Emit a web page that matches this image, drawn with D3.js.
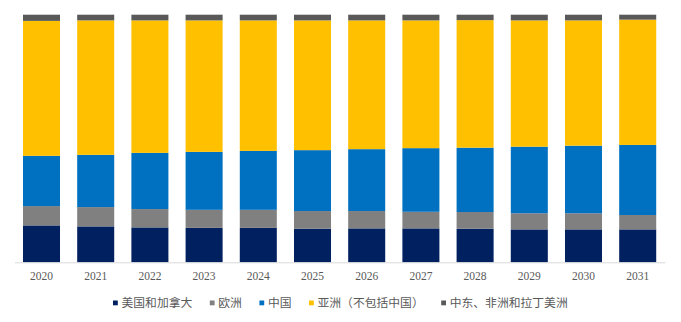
<!DOCTYPE html>
<html>
<head>
<meta charset="utf-8">
<script src="https://cdn.jsdelivr.net/npm/d3@7/dist/d3.min.js"></script>
<style>
  html, body { margin: 0; padding: 0; background: #fff; }
  svg { display: block; }
</style>
</head>
<body>
<svg id="chart" width="681" height="322"></svg>
<script>
// Years on the x axis
const years = ["2020","2021","2022","2023","2024","2025","2026","2027","2028","2029","2030","2031"];

// Regional share (%) per year, bottom to top of each stack
const usCanada = [14.9, 14.5, 14.1, 13.9, 13.9, 13.6, 13.7, 13.7, 13.6, 13.3, 13.3, 13.3];
const europe   = [7.8, 7.8, 7.4, 7.3, 7.3, 7.1, 7.0, 6.7, 6.7, 6.5, 6.5, 5.8];
const china    = [20.3, 21.1, 22.7, 23.4, 23.8, 24.6, 25.0, 25.7, 26.0, 26.9, 27.3, 28.3];
const asiaExCn = [54.5, 54.3, 53.5, 53.1, 52.7, 52.4, 52.0, 51.6, 51.5, 51.0, 50.6, 50.6];
const meaLatam = [2.5, 2.3, 2.3, 2.3, 2.3, 2.3, 2.3, 2.3, 2.2, 2.3, 2.3, 2.0];

const seriesNames = ["美国和加拿大", "欧洲", "中国", "亚洲（不包括中国）", "中东、非洲和拉丁美洲"];
const seriesValues = [usCanada, europe, china, asiaExCn, meaLatam];
const seriesColors = ["#002060", "#808080", "#0070C0", "#FFC000", "#595959"];

const keys = seriesNames;
const rows = years.map((y, i) => {
  const r = { year: y };
  keys.forEach((k, j) => { r[k] = seriesValues[j][i]; });
  return r;
});

const svg = d3.select("#chart");
const plotTop = 14.7, plotBottom = 262.3;

const x = d3.scaleBand()
  .domain(years)
  .range([14.4, 664.8])
  .paddingInner(0.317)
  .paddingOuter(0.1585);

const y = d3.scaleLinear().domain([0, 100]).range([plotBottom, plotTop]);

const color = d3.scaleOrdinal().domain(keys).range(seriesColors);

const stacked = d3.stack().keys(keys)(rows);

svg.append("g")
  .selectAll("g")
  .data(stacked)
  .join("g")
  .attr("fill", d => color(d.key))
  .selectAll("rect")
  .data(d => d)
  .join("rect")
  .attr("x", d => x(d.data.year))
  .attr("width", x.bandwidth())
  .attr("y", d => y(d[1]))
  .attr("height", d => y(d[0]) - y(d[1]));

// Category axis along the baseline
const xAxis = svg.append("g")
  .attr("transform", `translate(0,${plotBottom})`)
  .call(d3.axisBottom(x).tickSize(0).tickSizeOuter(0).tickPadding(10));
xAxis.select(".domain").attr("stroke", "#d9d9d9").attr("stroke-width", 1);
xAxis.selectAll("text")
  .attr("fill", "#595959")
  .style("font-family", "'Liberation Serif', 'Times New Roman', serif")
  .style("font-size", "11.5px");

// Legend row
const legend = svg.append("g").attr("transform", "translate(113,302.7)");
let cursor = 0;
keys.forEach((k, i) => {
  const item = legend.append("g").attr("transform", `translate(${cursor},0)`);
  item.append("rect")
    .attr("x", 0).attr("y", -2.2)
    .attr("width", 4.8).attr("height", 4.8)
    .attr("fill", color(k));
  const t = item.append("text")
    .attr("x", 8.5).attr("y", 0)
    .attr("dy", "0.36em")
    .attr("fill", "#595959")
    .style("font-family", "'Noto Sans CJK SC', sans-serif")
    .style("font-size", "11.8px")
    .text(k);
  cursor += 8.5 + t.node().getComputedTextLength() + 17.5;
});
</script>
</body>
</html>
